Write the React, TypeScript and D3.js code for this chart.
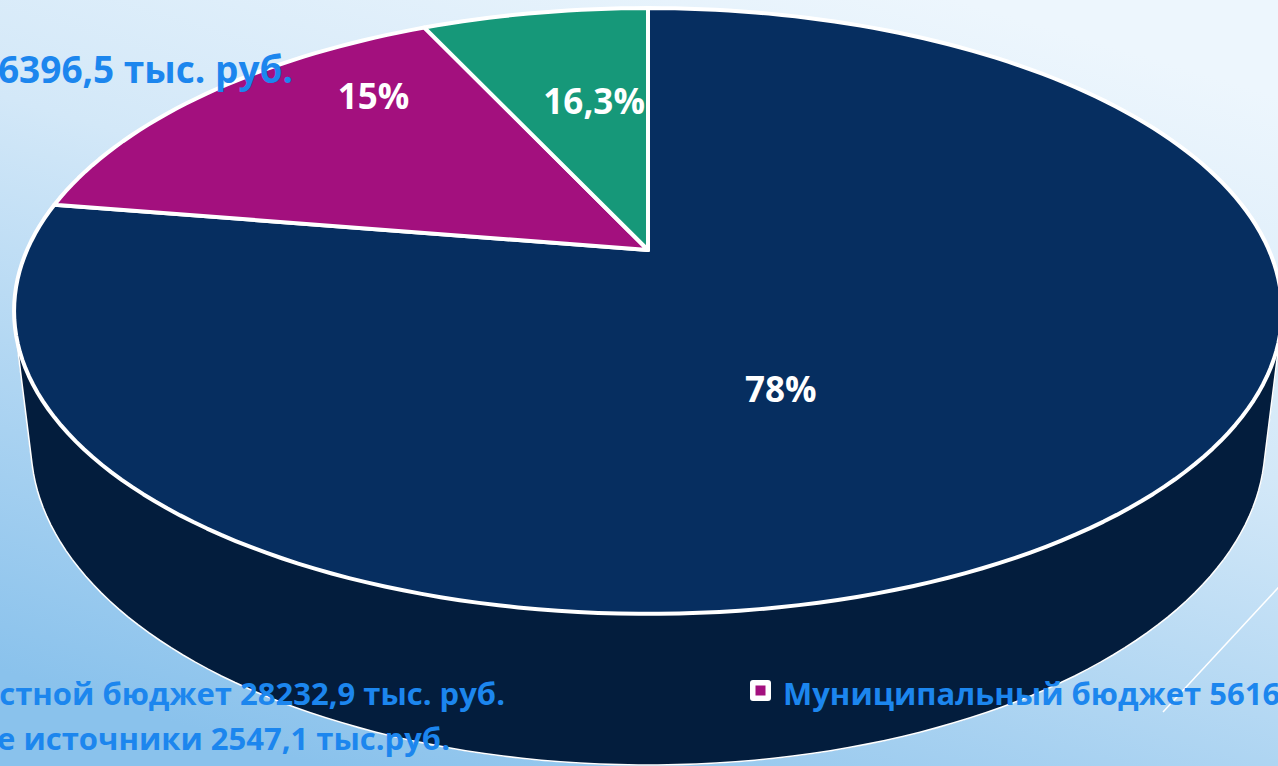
import React from 'react';
import * as d3 from 'd3';

// ---- data ----
const categories = ['Областной бюджет', 'Муниципальный бюджет', 'Иные источники'];
const values = [28232.9, 5616.5, 2547.1];
const valueLabels = ['28232,9 тыс. руб.', '5616,5 тыс. руб.', '2547,1 тыс.руб.'];
const sliceLabels = ['78%', '15%', '16,3%'];
const totalLabel = 'Общий объём финансирования 36396,5 тыс. руб.';

// ---- styles / layout ----
const colors = ['#062E60', '#A3107E', '#169879'];
const sideColors = ['#031D3D', '#5E0848', '#0C5646'];
const labelLayout = [
  { shift: 16.4, r: 0.48 },
  { shift: 13, r: 0.77 },
  { shift: 3, r: 0.58 },
];
const W = 1278;
const H = 766;
const CX = 648;
const CY = 250;
const F = 2726;
const D = 4.39;
const SIN = 0.468;
const COS = Math.sqrt(1 - SIN * SIN);
const THICK = 0.2445;
const FONT = "'Open Sans', 'DejaVu Sans', sans-serif";
const TEXT_BLUE = '#1C86EE';

function project(theta: number, r: number, y: number): [number, number] {
  const X = r * Math.sin(theta);
  const Z = -r * Math.cos(theta);
  const d = D - y * SIN - Z * COS;
  return [CX + (F * X) / d, CY - (F * (y * COS - Z * SIN)) / d];
}

const rad = (deg: number) => (deg * Math.PI) / 180;

export default function App() {
  const pie = d3.pie<number>().sort(null).value((d) => d).startAngle(0).endAngle(2 * Math.PI);
  const arcs = pie(values);
  const line = d3.line();
  const N = 240;

  // visible side range: Z > 1/(D*COS)
  const zt = 1 / (D * COS);
  const visA0 = Math.acos(-zt);
  const visA1 = 2 * Math.PI - visA0;

  const sample = (a0: number, a1: number, y: number, r = 1) => {
    const n = Math.max(2, Math.ceil((Math.abs(a1 - a0) / (2 * Math.PI)) * N));
    return d3.range(n + 1).map((i) => project(a0 + ((a1 - a0) * i) / n, r, y));
  };

  const sides = arcs
    .map((a, i) => {
      const s = Math.max(a.startAngle, visA0);
      const e = Math.min(a.endAngle, visA1);
      if (e <= s) return null;
      const pts = [...sample(s, e, 0), ...sample(e, s, -THICK)];
      return { i, d: line(pts) + 'Z' };
    })
    .filter(Boolean) as { i: number; d: string }[];

  const silhouette =
    line([project(visA0, 1, 0), ...sample(visA0, visA1, -THICK), project(visA1, 1, 0)]) || '';

  const tops = arcs.map((a, i) => {
    const pts = [project(0, 0, 0), ...sample(a.startAngle, a.endAngle, 0)];
    return { i, d: line(pts) + 'Z' };
  });

  const labels = arcs.map((a, i) => {
    const mid = (a.startAngle + a.endAngle) / 2 + rad(labelLayout[i].shift);
    const [x, y] = project(mid, labelLayout[i].r, 0);
    return { x, y, text: sliceLabels[i] };
  });

  return (
    <svg
      width={W}
      height={H}
      viewBox={`0 0 ${W} ${H}`}
      style={{ position: 'fixed', left: 0, top: 0, display: 'block' }}
    >
      <defs>
        <linearGradient id="bg" x1="0.75" y1="0" x2="0.25" y2="1">
          <stop offset="0" stopColor="#EDF6FD" />
          <stop offset="0.4" stopColor="#D3E8F8" />
          <stop offset="1" stopColor="#8AC2EC" />
        </linearGradient>
      </defs>
      <rect x={0} y={0} width={W} height={H} fill="url(#bg)" />
      <line x1={1290} y1={575} x2={1163} y2={712} stroke="#FFFFFF" strokeWidth={1.5} />

      {sides.map((s) => (
        <path key={'s' + s.i} d={s.d} fill={sideColors[s.i]} stroke={sideColors[s.i]} strokeWidth={0.5} />
      ))}
      <path d={silhouette} fill="none" stroke="#FFFFFF" strokeWidth={1.6} />

      {tops.map((t) => (
        <path
          key={'t' + t.i}
          d={t.d}
          fill={colors[t.i]}
          stroke="#FFFFFF"
          strokeWidth={4}
          strokeLinejoin="round"
        />
      ))}

      {labels.map((l, i) => (
        <text
          key={'l' + i}
          x={l.x}
          y={l.y}
          dy="0.36em"
          textAnchor="middle"
          fill="#FFFFFF"
          fontFamily={FONT}
          fontWeight={700}
          fontSize={35}
        >
          {l.text}
        </text>
      ))}

      <text x={293} y={83} textAnchor="end" fill={TEXT_BLUE} fontFamily={FONT} fontWeight={700} fontSize={37}>
        {totalLabel}
      </text>

      {/* legend */}
      <text x={505} y={705} textAnchor="end" fill={TEXT_BLUE} fontFamily={FONT} fontWeight={700} fontSize={31}>
        {categories[0] + ' ' + valueLabels[0]}
      </text>
      <rect x={750} y={680} width={21} height={21} rx={3} fill="#FFFFFF" />
      <rect x={755.5} y={685.5} width={10} height={10} fill={colors[1]} />
      <text x={783} y={705} fill={TEXT_BLUE} fontFamily={FONT} fontWeight={700} fontSize={31}>
        {categories[1] + ' ' + valueLabels[1]}
      </text>
      <text x={450} y={750} textAnchor="end" fill={TEXT_BLUE} fontFamily={FONT} fontWeight={700} fontSize={31}>
        {categories[2] + ' ' + valueLabels[2]}
      </text>
    </svg>
  );
}
